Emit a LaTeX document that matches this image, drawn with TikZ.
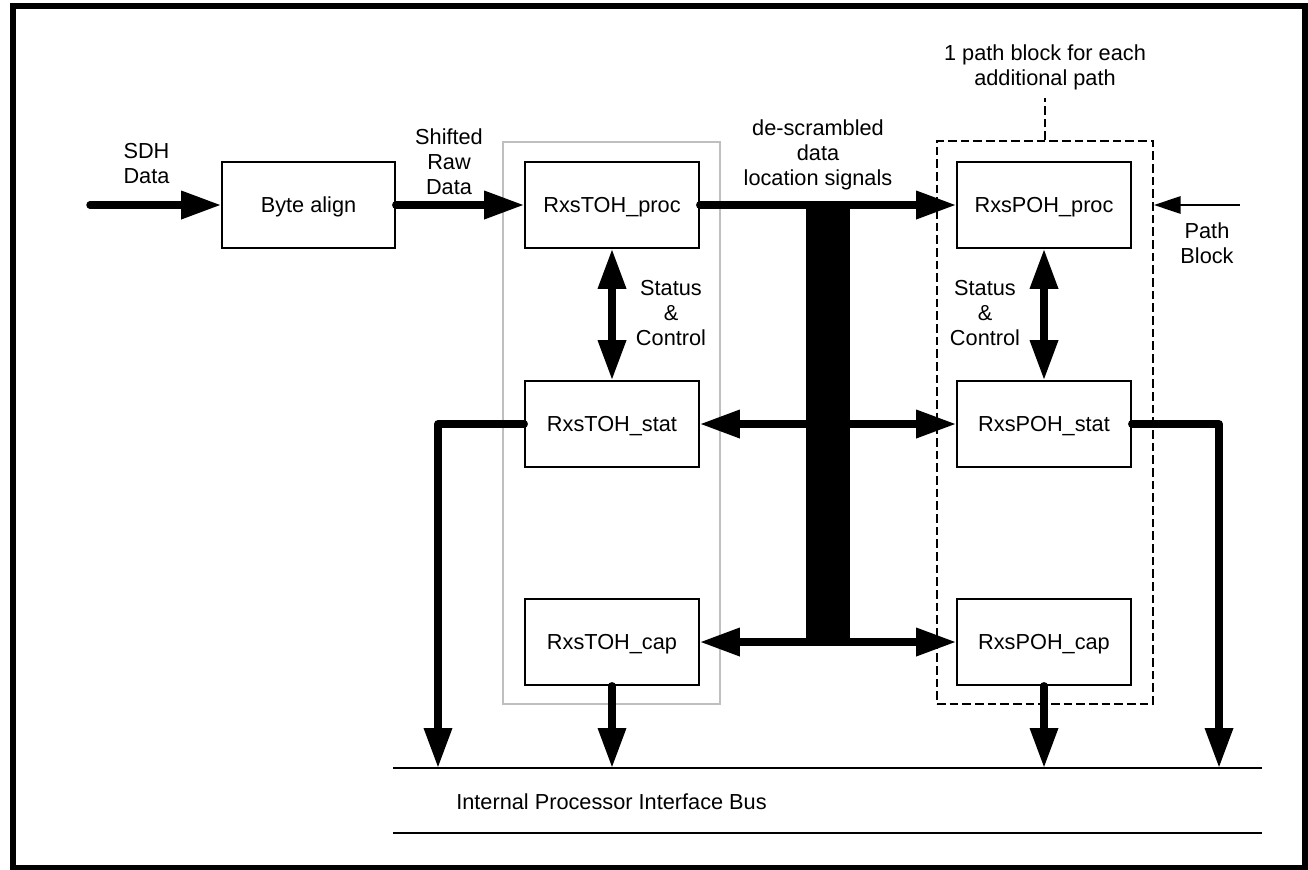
\documentclass[tikz,border=0pt]{standalone}
\usepackage{fontspec}
\setmainfont{Liberation Sans}
\usetikzlibrary{arrows.meta}
\tikzset{
  txt/.style={font=\fontsize{16.3pt}{18.75pt}\selectfont, inner sep=0pt},
  blk/.style={txt, draw, line width=1.2pt, minimum width=130.5pt, minimum height=64.5pt, text depth=0pt},
  lbl/.style={txt, align=center, anchor=north},
  fat/.style={line width=5.6pt, line cap=round, line join=round},
  bigtip/.tip={Triangle[length=30pt,width=20pt]},
  thintip/.tip={Triangle[length=20pt,width=13pt]},
}
\begin{document}
\begin{tikzpicture}[x=0.75pt,y=-0.75pt]
\useasboundingbox (0,0) rectangle (1308,869);
% outer frame
\draw[line width=4.5pt] (13,6) rectangle (1305,868);

% group boxes
\node[draw=black!25, line width=2.2pt, minimum width=162.75pt, minimum height=421.5pt, inner sep=0pt] (tgrp) at (611.5,423) {};
\node[draw, dashed, dash pattern=on 6.5pt off 3pt, line width=1.5pt, minimum width=162pt, minimum height=422.25pt, inner sep=0pt] (pgrp) at (1045,422.5) {};

% blocks
\node[blk, minimum width=129.75pt] (byte) at (308.5,205) {Byte align};
\node[blk] (tproc) at (612,205) {RxsTOH\_proc};
\node[blk] (tstat) at (612,424) {RxsTOH\_stat};
\node[blk] (tcap)  at (612,642) {RxsTOH\_cap};
\node[blk] (pproc) at (1044,205) {RxsPOH\_proc};
\node[blk] (pstat) at (1044,424) {RxsPOH\_stat};
\node[blk] (pcap)  at (1044,642) {RxsPOH\_cap};

% vertical data bus bar
\node[fill=black, inner sep=0pt, minimum width=33pt, minimum height=327.75pt] (vbus) at (828,423.5) {};

% processor interface bus
\coordinate (busL) at (393,768);
\coordinate (busR) at (1262,768);
\coordinate (busL2) at (393,833);
\coordinate (busR2) at (1262,833);
\draw[line width=1.2pt] (busL) -- (busR);
\draw[line width=1.2pt] (busL2) -- (busR2);
\node[txt, anchor=west, text depth=0pt] (buslbl) at (456,802) {Internal Processor Interface Bus};

% input
\coordinate (sdhin) at (90,205);
\draw[fat, -bigtip] (sdhin) -- (byte.west);
\node[lbl] (sdhlbl) at (146.5,143) {SDH\\Data};

\draw[fat, -bigtip] (byte.east) -- (tproc.west);
\node[lbl] (shlbl) at (449,128) {Shifted\\Raw\\Data};

\draw[fat, -bigtip] (tproc.east) -- (pproc.west);
\node[lbl] (dslbl) at (818,119) {de-scrambled\\data\\location signals};

\draw[fat, bigtip-bigtip] (tstat.east) -- (pstat.west);
\draw[fat, bigtip-bigtip] (tcap.east) -- (pcap.west);

% status & control
\draw[fat, bigtip-bigtip] (tproc.south) -- (tstat.north);
\draw[fat, bigtip-bigtip] (pproc.south) -- (pstat.north);
\node[lbl] (sc1) at (671,280) {Status\\\&\\Control};
\node[lbl] (sc2) at (985,280) {Status\\\&\\Control};

% to processor bus
\coordinate (lb) at (438,768);
\coordinate (rb) at (1219,768);
\draw[fat, -bigtip] (tstat.west) -| (lb);
\draw[fat, -bigtip] (pstat.east) -| (rb);
\draw[fat, -bigtip] (tcap.south) -- (tcap.south |- busL);
\draw[fat, -bigtip] (pcap.south) -- (pcap.south |- busL);

% path block input
\coordinate (pbin) at (1240,205);
\draw[line width=1.6pt, -thintip] (pbin) -- (pgrp.east |- pproc.center);
\node[lbl] (pblbl) at (1207,222) {Path\\Block};

% annotation
\coordinate (ann) at (1045,98);
\draw[dashed, dash pattern=on 6.5pt off 3pt, line width=1.5pt] (pgrp.north) -- (ann);
\node[lbl] (annlbl) at (1045,44) {1 path block for each\\additional path};
\end{tikzpicture}
\end{document}
